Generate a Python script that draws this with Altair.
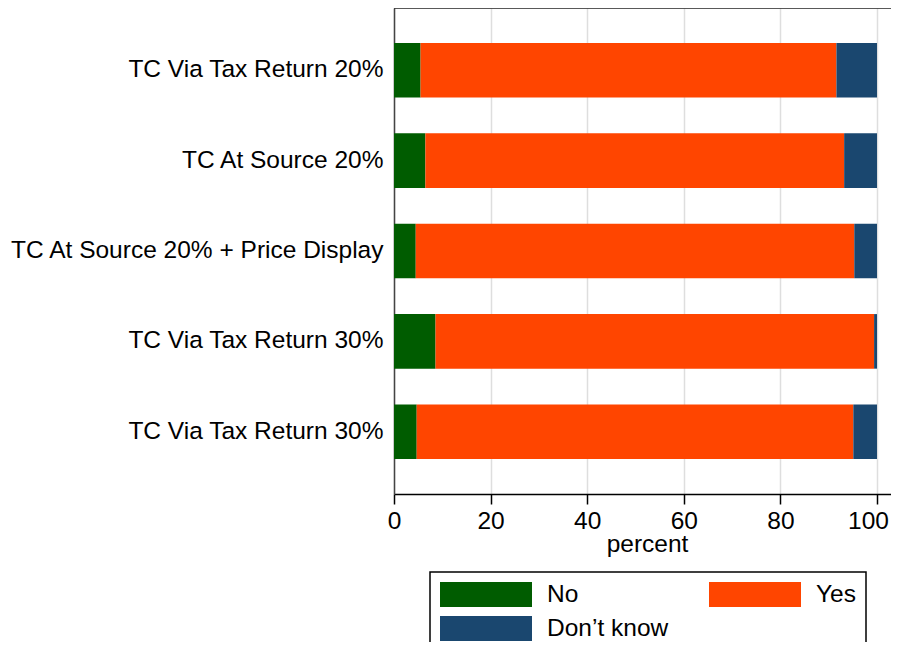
import json
import altair as alt
import pandas as pd

categories = [
    "TC Via Tax Return 20%",
    "TC At Source 20%",
    "TC At Source 20% + Price Display",
    "TC Via Tax Return 30%",
    "TC Via Tax Return 30%",
]
no_pct = [5.5, 6.5, 4.5, 8.6, 4.7]
yes_pct = [86.1, 86.7, 90.8, 90.8, 90.4]
dk_pct = [8.4, 6.8, 4.7, 0.6, 4.9]
responses = ["No", "Yes", "Don\u2019t know"]
colors = ["#005c00", "#ff4500", "#1a476f"]
x_ticks = [0, 20, 40, 60, 80, 100]

rows = []
for i, cat in enumerate(categories):
    for j, (resp, vals) in enumerate(zip(responses, [no_pct, yes_pct, dk_pct])):
        rows.append({"id": str(i), "label": cat, "response": resp, "order": j, "pct": vals[i]})
df = pd.DataFrame(rows)

label_expr = json.dumps(categories) + "[toNumber(datum.value)]"

W = 497
H = 486
FONT = "Liberation Sans"
FS = 24.5

bars = alt.Chart(df).mark_bar().encode(
    y=alt.Y(
        "id:N",
        sort=[str(i) for i in range(len(categories))],
        scale=alt.Scale(paddingInner=0.396, paddingOuter=0.387),
        axis=alt.Axis(
            title=None, labelExpr=label_expr, ticks=False, tickSize=0,
            labelPadding=11, labelFontSize=FS, labelColor="black",
            domainColor="#444444", domainWidth=1.5, grid=False, labelLimit=0,
        ),
    ),
    x=alt.X(
        "pct:Q",
        stack="zero",
        scale=alt.Scale(domain=[0, 102.9], nice=False, zero=True),
        axis=alt.Axis(
            values=x_ticks, title="percent", grid=True, gridColor="#dedede",
            gridWidth=1.5, domainColor="black", domainWidth=1.5,
            tickColor="black", tickWidth=1.5, tickSize=10, labelPadding=5,
            labelFontSize=FS, labelColor="black", titleFontSize=FS,
            titleFontWeight="normal", titleColor="black", titlePadding=0,
            titleX=253, labelFlush=False,
            labelOffset={"condition": {"test": "datum.value == 100", "value": -9}, "value": 0},
        ),
    ),
    color=alt.Color(
        "response:N",
        scale=alt.Scale(domain=responses, range=colors),
        legend=alt.Legend(
            title=None, orient="none", legendX=36, legendY=564, columns=2,
            direction="horizontal",
            columnPadding=40, rowPadding=8,
            symbolType="M-1,-1H6.36V1H-1Z", symbolSize=625,
            symbolStrokeWidth=0, symbolOpacity=1, labelOffset=82,
            labelFontSize=FS, labelColor="black", labelLimit=0,
            strokeColor="black", padding=10,
        ),
    ),
    order=alt.Order("order:Q"),
)

top_line = alt.Chart(pd.DataFrame({"v": [0]})).mark_rule(
    color="#222222", strokeWidth=1.5
).encode(y=alt.value(0), x=alt.value(0), x2=alt.value(W))

chart = (
    alt.layer(bars, top_line)
    .properties(
        width=W,
        height=H,
        autosize=alt.AutoSizeParams(type="none"),
        padding={"left": 386, "top": 0, "right": 0, "bottom": 148},
    )
    .configure(font=FONT)
    .configure_view(stroke=None)
    .configure_legend(strokeWidth=1.5)
)

chart.save("out.html", embed_options={"renderer": "svg", "actions": False})
